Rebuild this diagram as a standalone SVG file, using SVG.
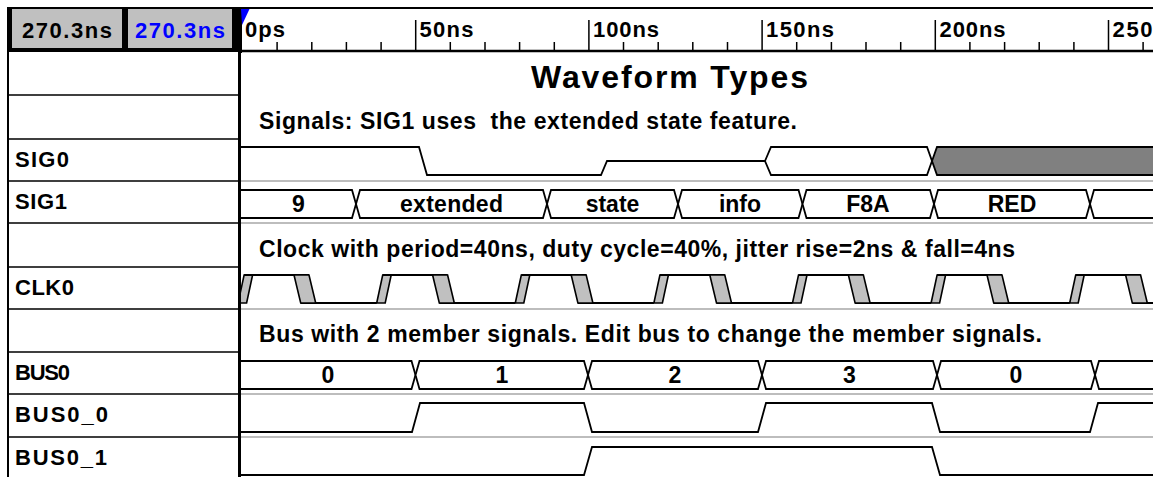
<svg xmlns="http://www.w3.org/2000/svg" width="1153" height="477" viewBox="0 0 1153 477">
<style>
text { font-family: "Liberation Sans", Arial, sans-serif; font-weight: bold; fill: #000; }
.lbl { font-size: 22px; }
.dat { font-size: 23px; text-anchor: middle; }
.cmt { font-size: 23px; white-space: pre; }
.ttl { font-size: 32px; }
.rul { font-size: 22px; }
.btn { font-size: 22px; }
.w { fill: none; stroke: #000; stroke-width: 1.8; }
.bus { fill: #fff; stroke: #000; stroke-width: 1.8; }
.x { fill: #808080; stroke: #000; stroke-width: 1.8; }
.sep { stroke: #000; stroke-width: 1.5; }
.gsep { stroke: #bdbdbd; stroke-width: 2; }
.tick { fill: none; stroke: #000; stroke-width: 1.5; }
.jit { fill: #c0c0c0; stroke: #000; stroke-width: 1.6; }
</style>
<defs>
<clipPath id="wclip"><rect x="241" y="52" width="912" height="425"/></clipPath>
<g id="clkcyc">
<polygon class="jit" points="0,303 6,275 14.5,275 8.5,303"/>
<path class="w" d="M6,275 H70.9 M62.6,303 H138.6"/>
<polygon class="jit" points="55.9,275 70.9,275 77.6,303 62.6,303"/>
</g>
</defs>
<rect width="1153" height="477" fill="#fff"/>

<g id="header">
<rect x="7" y="7" width="235" height="46" fill="#000"/>
<rect x="12" y="9" width="110" height="39" fill="#c0c0c0"/>
<rect x="128" y="9" width="104" height="39" fill="#c0c0c0"/>
<text class="btn" x="22" y="38" textLength="90">270.3ns</text>
<text class="btn" x="135" y="38" textLength="90" style="fill:#0000ff">270.3ns</text>
</g>

<g id="ruler">
<line x1="7" y1="8" x2="1153" y2="8" stroke="#000" stroke-width="2"/>
<line x1="242" y1="51" x2="1153" y2="51" stroke="#000" stroke-width="2.5"/>
<path class="tick" d="M277.1,42V51 M311.8,42V51 M346.4,42V51 M381.1,42V51 M450.3,42V51 M485,42V51 M519.6,42V51 M554.3,42V51 M623.5,42V51 M658.2,42V51 M692.8,42V51 M727.5,42V51 M796.7,42V51 M831.4,42V51 M866,42V51 M900.7,42V51 M969.9,42V51 M1004.6,42V51 M1039.2,42V51 M1073.9,42V51 M1143.1,42V51"/>
<path class="tick" d="M415.7,20V51 M588.9,20V51 M762.1,20V51 M935.3,20V51 M1108.5,20V51"/>
<polygon points="241,9 249.5,9 242,25" fill="#0000ff"/>
<text class="rul" x="245" y="37" textLength="40">0ps</text>
<text class="rul" x="419.5" y="37" textLength="54">50ns</text>
<text class="rul" x="593" y="37" textLength="66">100ns</text>
<text class="rul" x="766" y="37" textLength="68">150ns</text>
<text class="rul" x="939.5" y="37" textLength="66">200ns</text>
<text class="rul" x="1112.5" y="37" textLength="40">250</text>
</g>

<g id="names">
<rect x="8" y="52" width="232" height="425" fill="#fff"/>
<path class="sep" d="M8,95H239 M8,139H239 M8,181H239 M8,223H239 M8,267H239 M8,309H239 M8,352H239 M8,394H239 M8,437H239"/>
<line x1="8" y1="52" x2="8" y2="477" stroke="#000" stroke-width="2"/>
<line x1="239.5" y1="52" x2="239.5" y2="477" stroke="#000" stroke-width="3"/>
<text class="lbl" x="15" y="167" textLength="54">SIG0</text>
<text class="lbl" x="15" y="209" textLength="52">SIG1</text>
<text class="lbl" x="15" y="295" textLength="59">CLK0</text>
<text class="lbl" x="15" y="380" textLength="55">BUS0</text>
<text class="lbl" x="15" y="422" textLength="93">BUS0_0</text>
<text class="lbl" x="15" y="465" textLength="92">BUS0_1</text>
</g>

<g id="comments">
<text class="ttl" x="531" y="88" textLength="277">Waveform Types</text>
<text class="cmt" x="259" y="129" textLength="538" xml:space="preserve">Signals: SIG1 uses  the extended state feature.</text>
<text class="cmt" x="259" y="257" textLength="756">Clock with period=40ns, duty cycle=40%, jitter rise=2ns &amp; fall=4ns</text>
<text class="cmt" x="259" y="342" textLength="783">Bus with 2 member signals. Edit bus to change the member signals.</text>
</g>

<g id="waves" clip-path="url(#wclip)">
<path class="gsep" d="M241,181H1153 M241,223H1153 M241,309H1153 M241,394H1153 M241,437H1153"/>

<g id="sig0">
<path class="w" d="M238,147 H419 L427,175 H601 L607,161 H765"/>
<path class="bus" d="M765,161 L771,147 H927 L932,161 L927,175 H771 Z"/>
<path class="x" d="M932,161 L937,147 H1160 V175 H937 Z"/>
</g>

<g id="sig1">
<path class="bus" d="M236,190 H352 L356,204 L352,218 H236 Z"/>
<path class="bus" d="M356,204 L360,190 H543 L547,204 L543,218 H360 Z"/>
<path class="bus" d="M547,204 L551,190 H674 L678,204 L674,218 H551 Z"/>
<path class="bus" d="M678,204 L682,190 H798.5 L802.5,204 L798.5,218 H682 Z"/>
<path class="bus" d="M802.5,204 L806.5,190 H930 L934,204 L930,218 H806.5 Z"/>
<path class="bus" d="M934,204 L938,190 H1086 L1090,204 L1086,218 H938 Z"/>
<path class="bus" d="M1090,204 L1094,190 H1160 V218 H1094 Z"/>
<text class="dat" x="298.5" y="212">9</text>
<text class="dat" x="451.5" y="212" textLength="103">extended</text>
<text class="dat" x="612.5" y="212">state</text>
<text class="dat" x="740" y="212">info</text>
<text class="dat" x="868" y="212">F8A</text>
<text class="dat" x="1012" y="212">RED</text>
</g>

<g id="clk0">
<use href="#clkcyc" x="238.1"/>
<use href="#clkcyc" x="376.7"/>
<use href="#clkcyc" x="515.3"/>
<use href="#clkcyc" x="653.9"/>
<use href="#clkcyc" x="792.5"/>
<use href="#clkcyc" x="931.1"/>
<use href="#clkcyc" x="1069.7"/>
</g>

<g id="bus0">
<path class="bus" d="M236,361 H411.5 L415.5,375 L411.5,389 H236 Z"/>
<path class="bus" d="M415.5,375 L419.5,361 H584 L588,375 L584,389 H419.5 Z"/>
<path class="bus" d="M588,375 L592,361 H758 L762,375 L758,389 H592 Z"/>
<path class="bus" d="M762,375 L766,361 H933 L937,375 L933,389 H766 Z"/>
<path class="bus" d="M937,375 L941,361 H1091 L1095,375 L1091,389 H941 Z"/>
<path class="bus" d="M1095,375 L1099,361 H1160 V389 H1099 Z"/>
<text class="dat" x="328" y="383">0</text>
<text class="dat" x="502" y="383">1</text>
<text class="dat" x="675" y="383">2</text>
<text class="dat" x="849.5" y="383">3</text>
<text class="dat" x="1016" y="383">0</text>
</g>

<g id="bus0_0">
<path class="w" d="M238,432 H412 L420,403 H584 L592,432 H758 L766,403 H932 L940,432 H1090 L1098,403 H1160"/>
</g>

<g id="bus0_1">
<path class="w" d="M238,475 H584 L592,447 H932 L940,475 H1160"/>
</g>
</g>
</svg>
